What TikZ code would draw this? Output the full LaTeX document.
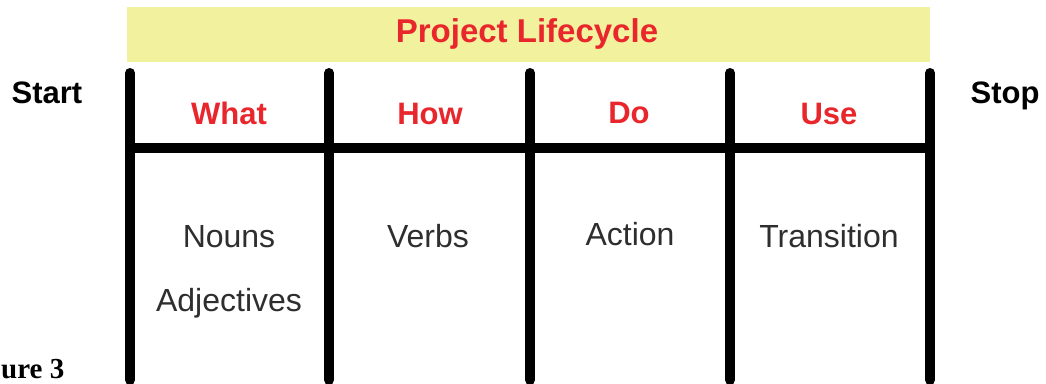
\documentclass[tikz,border=0pt]{standalone}
\usepackage{fontspec}
\setmainfont{Liberation Sans}
\newfontfamily\serifbold{Liberation Serif}
\definecolor{lcred}{HTML}{E8262C}
\definecolor{lcyellow}{HTML}{F2F29E}
\definecolor{lcgray}{HTML}{2E2E2E}
\tikzset{
  bar/.style={line width=10pt, black, line cap=round},
  rung/.style={line width=10pt, black, line cap=butt},
  phase/.style={font=\fontsize{31}{36}\selectfont\bfseries, text=lcred, anchor=base, inner sep=0pt},
  endlabel/.style={font=\fontsize{31}{36}\selectfont\bfseries, text=black, anchor=base, inner sep=0pt},
  item/.style={font=\fontsize{32}{38}\selectfont, text=lcgray, anchor=base, inner sep=0pt},
}
\begin{document}
\begin{tikzpicture}[x=1pt,y=-1pt]
  \useasboundingbox (0,0) rectangle (1046,383);
  \fill[white] (0,0) rectangle (1046,383);

  % title band
  \node[fill=lcyellow, minimum width=803pt, minimum height=55pt, inner sep=0pt, anchor=north west] (band) at (127,7) {};
  \node[font=\fontsize{33}{38}\selectfont\bfseries, text=lcred, anchor=base, inner sep=0pt] (title) at (527,42) {Project Lifecycle};

  % phase boundaries
  \foreach \n/\x in {b0/130, b1/329, b2/530, b3/730, b4/930} {
    \coordinate (\n top) at (\x,73);
    \coordinate (\n bot) at (\x,380);
    \draw[bar] (\n top) -- (\n bot);
  }
  % the rung across the phases
  \coordinate (rungL) at (125,147.5);
  \coordinate (rungR) at (935,147.5);
  \draw[rung] (rungL) -- (rungR);

  % start and stop
  \node[endlabel] (start) at (47,103) {Start};
  \node[endlabel] (stop) at (1005,103) {Stop};

  % phase names
  \node[phase] (what) at (229,124) {What};
  \node[phase] (how)  at (430,124) {How};
  \node[phase] (do)   at (629,123) {Do};
  \node[phase] (use)  at (829,124) {Use};

  % phase contents
  \node[item] (nouns) at (229,247) {Nouns};
  \node[item] (adj)   at (229,311) {Adjectives};
  \node[item] (verbs) at (428,247) {Verbs};
  \node[item] (action) at (630,245) {Action};
  \node[item] (trans) at (829,247) {Transition};

  % caption
  \node[font=\fontsize{29}{34}\selectfont\serifbold\bfseries, anchor=base west, inner sep=0pt] (caption) at (1,378) {ure 3};
\end{tikzpicture}
\end{document}
